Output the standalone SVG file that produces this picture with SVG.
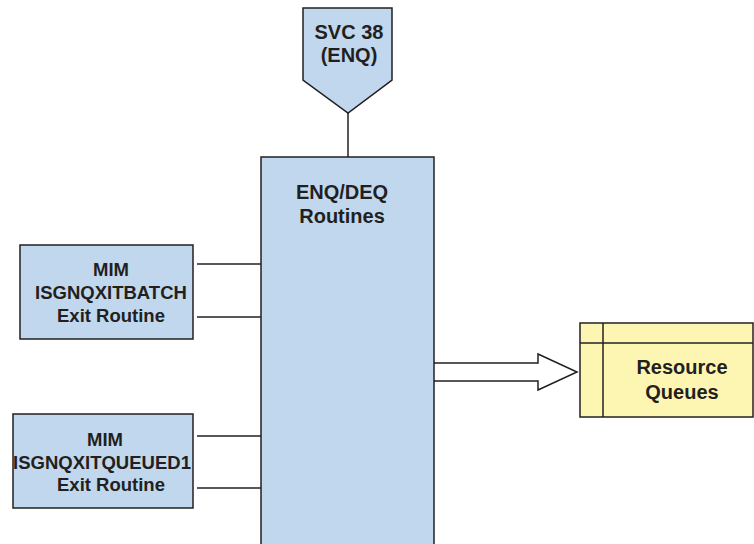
<svg xmlns="http://www.w3.org/2000/svg" width="754" height="544" viewBox="0 0 754 544">
  <style>
    .box { fill: #c0d7ee; stroke: #231f20; stroke-width: 1.5; }
    .queue { fill: #fdf6b2; stroke: #231f20; stroke-width: 1.5; }
    .wire { fill: none; stroke: #231f20; stroke-width: 1.5; }
    .lbl { font-family: "Liberation Sans", Arial, sans-serif; font-weight: bold; fill: #231f20; text-anchor: middle; }
  </style>
  <rect width="754" height="544" fill="#ffffff"/>

  <g id="connectors">
    <line class="wire" x1="348" y1="113" x2="348" y2="157"/>
    <line class="wire" x1="197" y1="264" x2="261" y2="264"/>
    <line class="wire" x1="197" y1="317" x2="261" y2="317"/>
    <line class="wire" x1="197" y1="436" x2="261" y2="436"/>
    <line class="wire" x1="197" y1="488" x2="261" y2="488"/>
    <path class="wire" d="M434,363 H538 V354 L577,372 L538,390 V381 H434" style="fill:#ffffff"/>
  </g>

  <g id="svc38">
    <path class="box" d="M303,8 H392 V80 L348,113 L303,80 Z"/>
    <text class="lbl" x="349" y="39" font-size="20">SVC 38</text>
    <text class="lbl" x="349" y="62" font-size="20">(ENQ)</text>
  </g>

  <g id="enqdeq">
    <rect class="box" x="261" y="157" width="173" height="400"/>
    <text class="lbl" x="342" y="199" font-size="20">ENQ/DEQ</text>
    <text class="lbl" x="342" y="223" font-size="20">Routines</text>
  </g>

  <g id="mim-batch">
    <rect class="box" x="20" y="245" width="173" height="94"/>
    <text class="lbl" x="111" y="276" font-size="18.5">MIM</text>
    <text class="lbl" x="111" y="299" font-size="18.5">ISGNQXITBATCH</text>
    <text class="lbl" x="111" y="322" font-size="18.5">Exit Routine</text>
  </g>

  <g id="mim-queued">
    <rect class="box" x="13" y="414" width="180" height="94"/>
    <text class="lbl" x="105" y="446" font-size="18.5">MIM</text>
    <text class="lbl" x="102" y="469" font-size="18.5">ISGNQXITQUEUED1</text>
    <text class="lbl" x="111" y="491" font-size="18.5">Exit Routine</text>
  </g>

  <g id="resource-queues">
    <rect class="queue" x="580" y="323" width="173" height="94"/>
    <line class="wire" x1="603" y1="323" x2="603" y2="417"/>
    <line class="wire" x1="580" y1="343" x2="753" y2="343"/>
    <text class="lbl" x="682" y="374" font-size="20">Resource</text>
    <text class="lbl" x="682" y="399" font-size="20">Queues</text>
  </g>
</svg>
